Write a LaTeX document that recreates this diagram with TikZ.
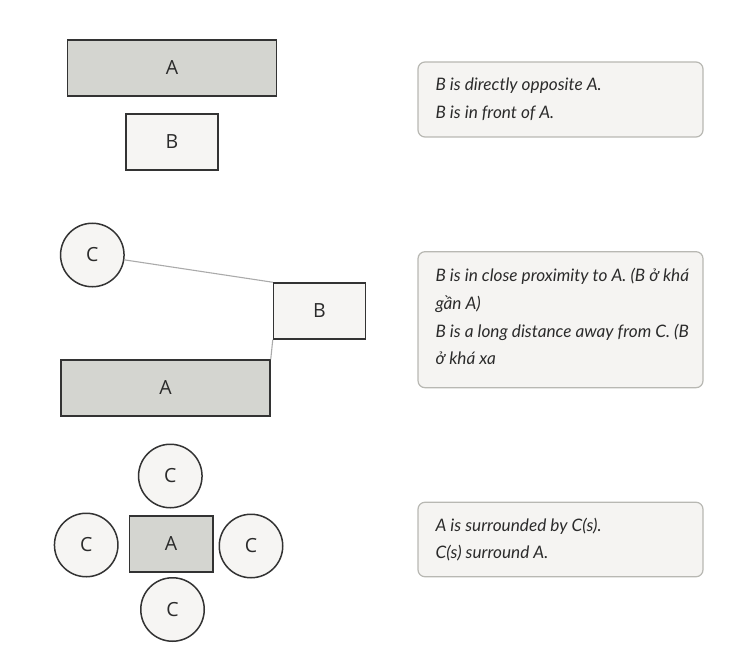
\documentclass[tikz,border=0pt]{standalone}
\usepackage{fontspec}
\setmainfont{Lato}
\newfontfamily\labfont{Open Sans}
\definecolor{shapeA}{HTML}{D4D5D0}
\definecolor{shapeB}{HTML}{F6F5F3}
\definecolor{edge}{HTML}{333333}
\definecolor{boxfill}{HTML}{F5F4F2}
\definecolor{boxline}{HTML}{B8B8B3}
\definecolor{conn}{HTML}{AAAAAA}
\definecolor{txt}{HTML}{2B2B2B}
\tikzset{
  shp/.style={draw=edge, line width=1.5pt, inner sep=0pt, text=txt, font={\labfont\fontsize{19.5}{21}\selectfont}},
  rectA/.style={shp, rectangle, fill=shapeA, minimum height=56pt},
  rectB/.style={shp, rectangle, fill=shapeB, minimum height=56pt, minimum width=92pt},
  circC/.style={shp, circle, fill=shapeB, minimum size=63.5pt},
  note/.style={draw=boxline, line width=1.2pt, fill=boxfill, rounded corners=7pt, minimum width=285pt, inner sep=0pt},
  notetext/.style={anchor=west, align=left, inner sep=0pt, text=txt, font={\fontsize{17.2}{27.7}\selectfont\itshape}},
  link/.style={draw=conn, line width=1.1pt}
}
\begin{document}
\begin{tikzpicture}[x=1pt,y=-1pt]
\useasboundingbox (0,0) rectangle (754,671);
% section 1
\node[rectA, minimum width=209pt] (a1) at (172,68) {A};
\node[rectB] (b1) at (172,142) {B};
\node[note, minimum height=75pt] (n1) at (560.5,99.5) {};
\node[notetext] (n1t) at ([xshift=18pt]n1.west) {B is directly opposite A.\\B is in front of A.};
% section 2
\node[circC] (c2) at (92.3,255) {C};
\node[rectB] (b2) at (319.5,311) {B};
\node[rectA, minimum width=209pt] (a2) at (165.5,388) {A};
\draw[link] (c2) -- (b2.north west);
\draw[link] (b2.south west) -- (a2.north east);
\node[note, minimum height=136pt] (n2) at (560.5,319.7) {};
\node[notetext] (n2t) at ([xshift=18pt,yshift=3pt]n2.west) {B is in close proximity to A. (B ở khá\\gần A)\\B is a long distance away from C. (B\\ở khá xa};
% section 3
\node[rectA, minimum width=83.5pt] (a3) at (171,544) {A};
\node[circC] (c3t) at (170.3,476) {C};
\node[circC] (c3l) at (86.2,545) {C};
\node[circC] (c3r) at (251,546) {C};
\node[circC] (c3b) at (172.5,609.5) {C};
\node[note, minimum height=74.5pt] (n3) at (560.5,539.5) {};
\node[notetext] (n3t) at ([xshift=18pt]n3.west) {A is surrounded by C(s).\\C(s) surround A.};
\end{tikzpicture}
\end{document}
